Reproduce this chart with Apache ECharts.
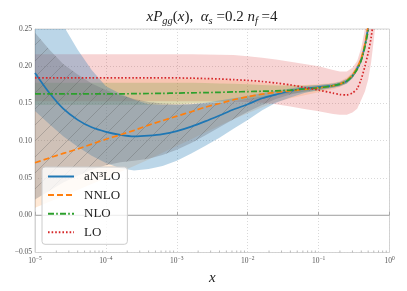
<!DOCTYPE html>
<html><head><meta charset="utf-8">
<script src="https://cdn.jsdelivr.net/npm/echarts@6/dist/echarts.min.js"></script>
<style>html,body{margin:0;padding:0;background:#fff}#c{width:407px;height:291px}</style>
</head><body><div id="c"></div>
<script>
// x grid (values of x)
const xs = [1e-5,1.6e-5,2.5e-5,4e-5,6.3e-5,1e-4,1.6e-4,2.5e-4,4e-4,6.3e-4,1e-3,1.6e-3,2.5e-3,4e-3,6.3e-3,1e-2,1.6e-2,2.5e-2,4e-2,6.3e-2,0.1,0.16,0.2,0.25,0.3,0.35,0.4,0.45,0.5,0.55,0.6,0.65,0.8];
// central curves
const aN3LO = [0.191,0.164,0.143,0.128,0.118,0.112,0.108,0.106,0.107,0.109,0.113,0.119,0.126,0.134,0.142,0.149,0.157,0.162,0.167,0.170,0.172,0.174,0.176,0.180,0.187,0.197,0.209,0.228,0.252,0.28,0.32,0.37,0.6];
const NNLO  = [0.0705,0.077,0.083,0.089,0.0955,0.102,0.108,0.114,0.121,0.127,0.133,0.139,0.145,0.150,0.155,0.159,0.1625,0.165,0.167,0.169,0.171,0.174,0.176,0.181,0.188,0.198,0.211,0.23,0.255,0.285,0.33,0.38,0.6];
const NLO   = [0.163,0.163,0.163,0.163,0.163,0.163,0.163,0.1632,0.1634,0.1636,0.164,0.1643,0.1646,0.165,0.1655,0.166,0.1665,0.167,0.168,0.1695,0.171,0.174,0.176,0.18,0.187,0.196,0.208,0.226,0.248,0.275,0.31,0.36,0.6];
const LO    = [0.1845,0.1845,0.1845,0.1845,0.1845,0.1845,0.1845,0.1845,0.1844,0.1844,0.1843,0.184,0.1835,0.183,0.182,0.181,0.1795,0.1775,0.175,0.1715,0.168,0.164,0.162,0.1615,0.164,0.17,0.183,0.2,0.218,0.238,0.265,0.29,0.45];
// uncertainty bands
const LOup  = [0.216,0.216,0.216,0.216,0.216,0.216,0.216,0.216,0.216,0.216,0.216,0.216,0.2158,0.2155,0.215,0.2135,0.2115,0.209,0.206,0.203,0.200,0.195,0.193,0.193,0.198,0.207,0.225,0.25,0.28,0.31,0.35,0.4,0.6];
const LOlo  = [0.153,0.153,0.153,0.153,0.153,0.153,0.153,0.153,0.153,0.153,0.153,0.153,0.153,0.153,0.1525,0.152,0.151,0.149,0.146,0.1425,0.1395,0.136,0.135,0.135,0.138,0.143,0.155,0.166,0.182,0.205,0.235,0.265,0.4];
const NLOup = [0.178,0.178,0.178,0.178,0.178,0.178,0.178,0.178,0.178,0.178,0.178,0.178,0.1775,0.177,0.1765,0.176,0.175,0.174,0.174,0.174,0.175,0.177,0.179,0.183,0.19,0.199,0.212,0.231,0.253,0.28,0.316,0.366,0.61];
const NLOlo = [0.148,0.148,0.148,0.148,0.148,0.148,0.148,0.148,0.148,0.1485,0.149,0.15,0.151,0.152,0.1535,0.155,0.158,0.161,0.163,0.165,0.167,0.171,0.173,0.177,0.184,0.193,0.204,0.221,0.243,0.27,0.304,0.354,0.59];
const NNLOup= [0.183,0.183,0.183,0.183,0.183,0.183,0.183,0.183,0.183,0.183,0.183,0.183,0.1825,0.182,0.181,0.18,0.178,0.176,0.175,0.175,0.176,0.178,0.180,0.185,0.192,0.202,0.216,0.236,0.26,0.29,0.336,0.386,0.61];
const NNLOlo= [0.01,0.018,0.026,0.034,0.042,0.05,0.058,0.066,0.075,0.084,0.093,0.102,0.111,0.12,0.129,0.137,0.145,0.152,0.157,0.161,0.165,0.169,0.172,0.177,0.184,0.194,0.206,0.224,0.25,0.28,0.324,0.374,0.59];
const N3up  = [0.35,0.30,0.255,0.222,0.195,0.173,0.163,0.155,0.149,0.148,0.148,0.149,0.151,0.154,0.157,0.160,0.164,0.167,0.170,0.173,0.175,0.177,0.179,0.183,0.19,0.2,0.212,0.231,0.255,0.284,0.325,0.375,0.61];
const N3lo  = [0.14,0.122,0.106,0.092,0.08,0.07,0.063,0.06,0.062,0.066,0.073,0.083,0.093,0.104,0.116,0.128,0.141,0.151,0.158,0.164,0.168,0.171,0.173,0.177,0.184,0.194,0.206,0.225,0.249,0.276,0.315,0.365,0.59];
const MHOUup= [0.245,0.222,0.203,0.189,0.177,0.168,0.161,0.156,0.152,0.150,0.149,0.149,0.15,0.151,0.153,0.156,0.159,0.163,0.166,0.169,0.171,0.174,0.176,0.181,0.188,0.198,0.21,0.229,0.253,0.281,0.321,0.371,0.6];
const MHOUlo= [0.021,0.033,0.044,0.053,0.061,0.067,0.071,0.073,0.076,0.081,0.088,0.097,0.107,0.118,0.129,0.139,0.148,0.156,0.162,0.166,0.169,0.172,0.174,0.178,0.185,0.195,0.207,0.226,0.25,0.278,0.318,0.368,0.6];
const yTicks = [-0.05, 0, 0.05, 0.10, 0.15, 0.20, 0.25];
const xRange = [1e-5, 1];

const minorTicks = [];
for (let e = -5; e < 0; e++) for (let k = 2; k <= 9; k++) minorTicks.push(k * Math.pow(10, e));

// hatch pattern
const T = 16;
const pc = document.createElement('canvas');
pc.width = T; pc.height = T;
const g = pc.getContext('2d');
g.fillStyle = 'rgba(110,112,122,0.33)';
g.fillRect(0,0,T,T);
g.strokeStyle = 'rgba(85,85,85,0.42)';
g.lineWidth = 0.7;
g.beginPath();
g.moveTo(0,T); g.lineTo(T,0);
g.moveTo(-T/2,T/2); g.lineTo(T/2,-T/2);
g.moveTo(T/2,1.5*T); g.lineTo(1.5*T,T/2);
g.stroke();

function band(up, lo, fill, z) {
  return {
    type: 'custom', silent: true, clip: true, z: z || 1,
    data: [[1e-3, 0.1]],
    renderItem: function (params, api) {
      const pts = [];
      for (let i = 0; i < xs.length; i++) pts.push(api.coord([xs[i], up[i]]));
      for (let i = xs.length - 1; i >= 0; i--) pts.push(api.coord([xs[i], lo[i]]));
      return { type: 'polygon', shape: { points: pts, smooth: 0 }, style: { fill: fill, stroke: null } };
    }
  };
}
function line(name, arr, color, type, w) {
  return {
    name: name, type: 'line', data: xs.map((x, i) => [x, arr[i]]), symbol: 'none',
    clip: true, z: 5, smooth: 0.25, silent: true,
    lineStyle: { color: color, width: w || 1.6, type: type }, itemStyle: { color: color }
  };
}
const serif = 'Liberation Serif';
const chart = echarts.init(document.getElementById('c'), null, { renderer: 'canvas' });
chart.setOption({
  animation: false,
  backgroundColor: '#fff',
  grid: { left: 35, right: 17.5, top: 29, bottom: 38.5, show: true, borderColor: '#d4d4d4', borderWidth: 1 },
  graphic: [{
    type: 'text', x: 212, y: 17, z: 10,
    style: {
      text: '{i|xP}{s|gg}{r|(}{i|x}{r|),  }{i|α}{s|s}{r| =0.2 }{i|n}{s|f}{r| =4}',
      align: 'center', verticalAlign: 'middle', textAlign: 'center', textVerticalAlign: 'middle',
      rich: {
        i: { fontFamily: serif, fontStyle: 'italic', fontSize: 15, lineHeight: 20, fill: '#222', color: '#222' },
        r: { fontFamily: serif, fontSize: 15, lineHeight: 20, fill: '#222', color: '#222' },
        s: { fontFamily: serif, fontStyle: 'italic', fontSize: 10.5, lineHeight: 12, verticalAlign: 'bottom', fill: '#222', color: '#222' }
      }
    }
  }],
  xAxis: {
    type: 'log', logBase: 10, min: xRange[0], max: xRange[1],
    name: 'x', nameLocation: 'middle', nameGap: 13,
    nameTextStyle: { fontFamily: serif, fontStyle: 'italic', fontSize: 15, color: '#222' },
    axisLine: { show: true, lineStyle: { color: '#d4d4d4' } },
    axisTick: { show: true, inside: true, length: 3.5, lineStyle: { color: '#aaa' } },
    minorTick: { show: false },
    splitLine: { show: true, lineStyle: { color: '#cfcfcf', type: [1, 2], width: 0.8 } },
    axisLabel: {
      margin: 3, color: '#555',
      formatter: function (v) {
        const e = Math.round(Math.log10(v));
        return '{b|10}{e|' + (e < 0 ? '−' + (-e) : e) + '}';
      },
      rich: {
        b: { fontFamily: serif, fontSize: 7.5, lineHeight: 12, color: '#555' },
        e: { fontFamily: serif, fontSize: 5.5, lineHeight: 6, verticalAlign: 'top', color: '#555' }
      }
    }
  },
  yAxis: {
    type: 'value', min: yTicks[0], max: yTicks[yTicks.length - 1], interval: 0.05,
    axisLine: { show: true, lineStyle: { color: '#d4d4d4' } },
    axisTick: { show: false },
    splitLine: { show: true, lineStyle: { color: '#cfcfcf', type: [1, 2], width: 0.8 } },
    axisLabel: {
      margin: 3, color: '#555', fontFamily: serif, fontSize: 7.5,
      formatter: v => (v < 0 ? '−' : '') + Math.abs(v).toFixed(2)
    }
  },
  legend: {
    data: ['aN3LO', 'NNLO', 'NLO', 'LO'], orient: 'vertical', left: 42, top: 167,
    itemWidth: 26, itemHeight: 14, itemGap: 5.6, selectedMode: false,
    itemStyle: { color: 'rgba(0,0,0,0)', borderWidth: 0, opacity: 0 },
    backgroundColor: 'rgba(255,255,255,0.8)', borderColor: '#cccccc', borderWidth: 1, borderRadius: 3,
    padding: [3, 7, 5.5, 5],
    textStyle: { fontFamily: serif, fontSize: 13, color: '#222', padding: [0, 0, 0, 5] },
    formatter: n => n === 'aN3LO' ? 'aN³LO' : n
  },
  series: [
    band(LOup, LOlo, 'rgba(214,39,40,0.2)'),
    band(NLOup, NLOlo, 'rgba(44,160,44,0.2)'),
    band(NNLOup, NNLOlo, 'rgba(255,127,14,0.17)'),
    band(N3up, N3lo, 'rgba(31,119,180,0.3)'),
    band(MHOUup, MHOUlo, { image: pc, repeat: 'repeat' }, 2),
    {
      type: 'line', silent: true, symbol: 'none', z: 3,
      data: [[xRange[0], 0], [xRange[1], 0]],
      lineStyle: { color: '#a8a8a8', width: 1.1 }
    },
    {
      type: 'custom', silent: true, z: 6, data: minorTicks.map(v => [v, yTicks[0]]),
      renderItem: function (params, api) {
        const p = api.coord([api.value(0), api.value(1)]);
        return { type: 'line', shape: { x1: p[0], y1: p[1], x2: p[0], y2: p[1] - 2 }, style: { stroke: '#aaa', lineWidth: 0.8 } };
      }
    },
    line('aN3LO', aN3LO, '#1f77b4', 'solid', 1.7),
    line('NNLO', NNLO, '#ff7f0e', [6, 3], 1.7),
    line('NLO', NLO, '#2ca02c', [6, 2.2, 1.6, 2.2], 1.7),
    line('LO', LO, '#d62728', [1.6, 2], 1.7)
  ]
});
</script></body></html>
